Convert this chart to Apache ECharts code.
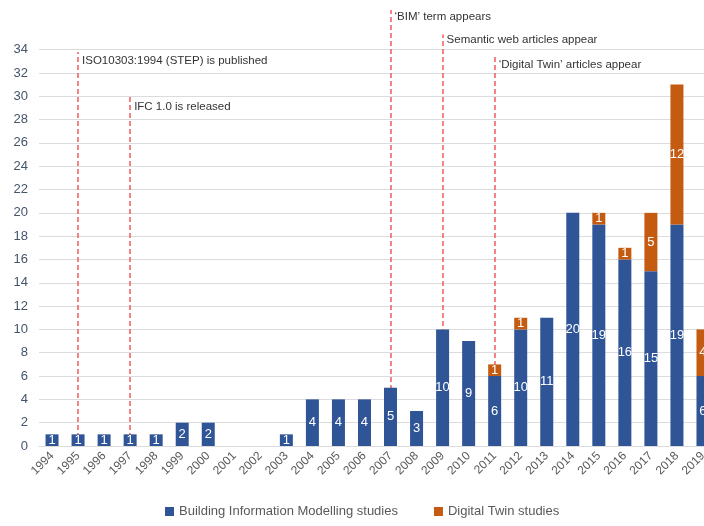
<!DOCTYPE html>
<html>
<head>
<meta charset="utf-8">
<script src="https://cdn.jsdelivr.net/npm/echarts@6/dist/echarts.min.js"></script>
<style>
  html, body { margin: 0; padding: 0; background: #fff; }
  #chart { width: 704px; height: 526px; }
</style>
</head>
<body>
<div id="chart"></div>
<script>
const years = ['1994', '1995', '1996', '1997', '1998', '1999', '2000', '2001', '2002', '2003', '2004', '2005', '2006',
  '2007', '2008', '2009', '2010', '2011', '2012', '2013', '2014', '2015', '2016', '2017', '2018', '2019']
const bimStudies = [1, 1, 1, 1, 1, 2, 2, null, null, 1, 4, 4, 4, 5, 3, 10, 9, 6, 10, 11, 20, 19, 16, 15, 19, 6]
const dtStudies = [null, null, null, null, null, null, null, null, null, null, null, null, null,
  null, null, null, null, 1, 1, null, null, 1, 1, 5, 12, 4]
const yTicks = [0, 2, 4, 6, 8, 10, 12, 14, 16, 18, 20, 22, 24, 26, 28, 30, 32, 34]

// milestones: year, top of the dashed line, label height, label text
const eventYears = ['1995', '1997', '2007', '2009', '2011']
const eventTops = [33.8, 30.0, 37.4, 35.3, 33.4]
const eventLabelY = [33.05, 29.1, 36.8, 34.8, 32.7]
const eventTexts = ['ISO10303:1994 (STEP) is published', 'IFC 1.0 is released', '\u2018BIM\u2019 term appears',
  'Semantic web articles appear', '\u2018Digital Twin\u2019 articles appear']

const blue = '#2F5597'
const orange = '#C55A11'
const fontFamily = 'Liberation Sans, Arial, sans-serif'

const chart = echarts.init(document.getElementById('chart'))

const barLabel = {
  show: true,
  position: 'inside',
  color: '#fff',
  fontSize: 13,
  fontFamily,
}

chart.setOption({
  animation: false,
  textStyle: { fontFamily },
  grid: { left: 39, top: 3, width: 677, bottom: 80, outerBoundsMode: 'none', containLabel: false },
  legend: {
    left: 160,
    bottom: 3,
    icon: 'rect',
    itemWidth: 9,
    itemHeight: 9,
    itemGap: 36,
    textStyle: { fontSize: 13, color: '#595959', fontFamily },
    data: ['Building Information Modelling studies', 'Digital Twin studies'],
  },
  xAxis: {
    type: 'category',
    data: years,
    axisTick: { show: false },
    axisLine: { lineStyle: { color: '#d9d9d9' } },
    axisLabel: { rotate: 45, margin: 8, fontSize: 12, color: '#595959', interval: 0 },
  },
  yAxis: {
    type: 'value',
    min: 0,
    max: 38,
    interval: 2,
    splitLine: { show: false },
    axisLabel: {
      fontSize: 13,
      color: '#44546A',
      margin: 11,
      formatter: (val) => (val > 34 ? '' : val),
    },
  },
  series: [
    {
      name: 'Building Information Modelling studies',
      type: 'bar',
      stack: 'total',
      barWidth: 13,
      data: bimStudies,
      itemStyle: { color: blue },
      label: barLabel,
      markLine: {
        silent: true,
        z: 1,
        symbol: 'none',
        label: { show: false },
        lineStyle: { color: '#dcdcdc', type: 'solid', width: 1 },
        data: yTicks.map((v) => ({ yAxis: v })),
      },
    },
    {
      name: 'Digital Twin studies',
      type: 'bar',
      stack: 'total',
      barWidth: 13,
      data: dtStudies,
      itemStyle: { color: orange },
      label: barLabel,
      markLine: {
        silent: true,
        z: 1,
        symbol: 'none',
        label: { show: false },
        lineStyle: { color: '#f25b5b', type: [5, 3], width: 1.5 },
        data: eventYears.map((yr, ii) => [{ coord: [yr, 0] }, { coord: [yr, eventTops[ii]] }]),
      },
      markPoint: {
        silent: true,
        symbol: 'circle',
        symbolSize: 0,
        label: {
          show: true,
          position: 'right',
          distance: 4,
          color: '#333',
          fontSize: 11.5,
          fontFamily,
          formatter: (p) => p.name,
        },
        data: eventYears.map((yr, ii) => ({ name: eventTexts[ii], coord: [yr, eventLabelY[ii]] })),
      },
    },
  ],
})
</script>
</body>
</html>
